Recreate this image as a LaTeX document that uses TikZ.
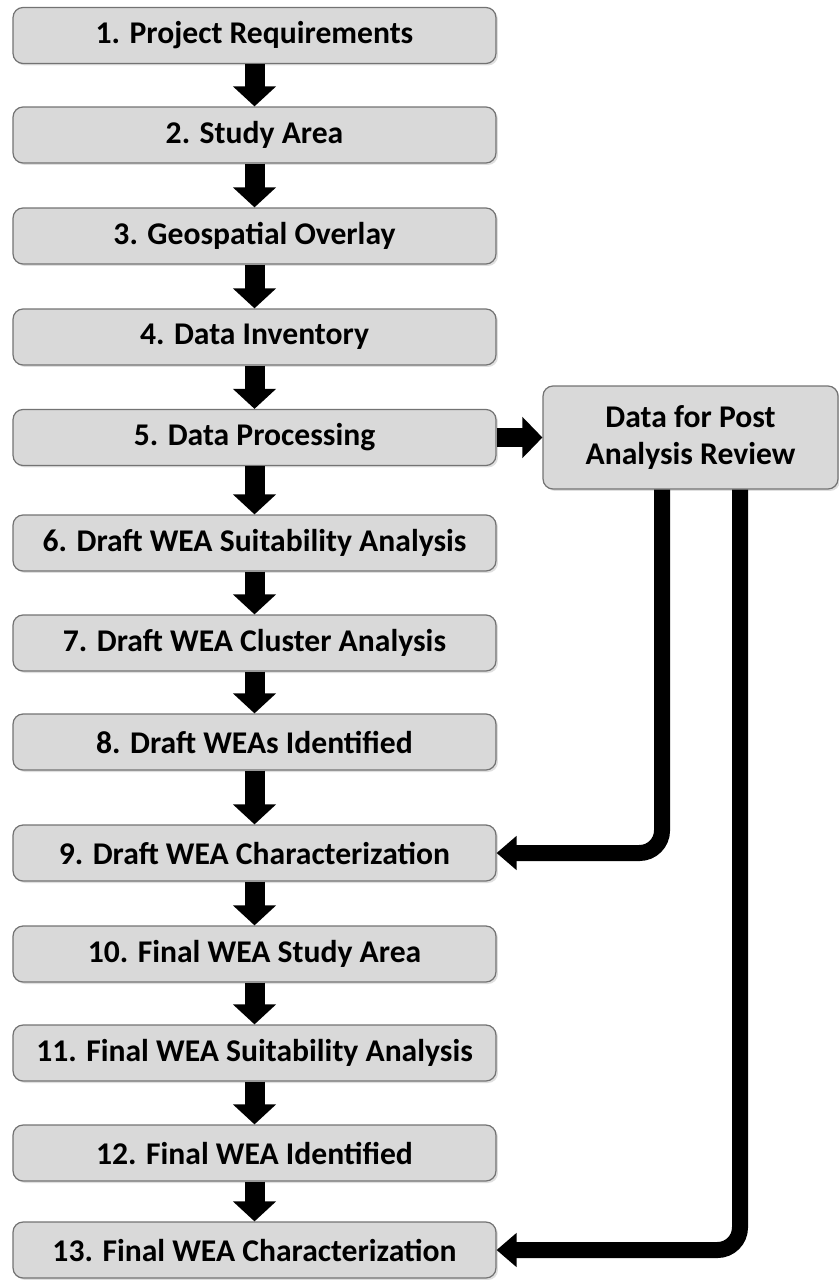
\documentclass[tikz,border=0pt]{standalone}
\usepackage{fontspec}
\setmainfont{Carlito}
\usetikzlibrary{arrows.meta,shadows}
\definecolor{boxfill}{RGB}{217,217,217}
\definecolor{boxline}{RGB}{115,115,115}

\begin{document}
\begin{tikzpicture}[x=0.02cm, y=-0.02cm,
  stepbox/.style={draw=boxline, line width=0.7pt, rounded corners=0.2cm, fill=boxfill, minimum width=9.66cm, minimum height=1.12cm, font=\fontsize{18}{21}\selectfont\bfseries, drop shadow={opacity=0.25, shadow xshift=0.04cm, shadow yshift=-0.04cm}},
  flow/.style={line width=0.4cm, -{Triangle[width=0.84cm,length=0.4cm]}},
  feed/.style={line width=0.32cm, rounded corners=0.45cm, -{Triangle[width=0.66cm,length=0.4cm]}}]
\useasboundingbox (0,0) rectangle (838,1280);
% main sequence of steps
\node[stepbox] (s1) at (254.5,35.5) {1. Project Requirements};
\node[stepbox] (s2) at (254.5,135) {2. Study Area};
\node[stepbox] (s3) at (254.5,236) {3. Geospatial Overlay};
\node[stepbox] (s4) at (254.5,337) {4. Data Inventory};
\node[stepbox] (s5) at (254.5,437.5) {5. Data Processing};
\node[stepbox] (s6) at (254.5,543) {6. Draft WEA Suitability Analysis};
\node[stepbox] (s7) at (254.5,643) {7. Draft WEA Cluster Analysis};
\node[stepbox] (s8) at (254.5,742) {8. Draft WEAs Identified};
\node[stepbox] (s9) at (254.5,853) {9. Draft WEA Characterization};
\node[stepbox] (s10) at (254.5,954) {10. Final WEA Study Area};
\node[stepbox] (s11) at (254.5,1053) {11. Final WEA Suitability Analysis};
\node[stepbox] (s12) at (254.5,1153) {12. Final WEA Identified};
\node[stepbox] (s13) at (254.5,1250) {13. Final WEA Characterization};
% side box
\node[stepbox, align=center, minimum width=5.9cm, minimum height=2.06cm] (post) at (690.5,437.5) {Data for Post\\Analysis Review};
\coordinate (tapA) at ([xshift=-0.57cm]post.south);
\coordinate (tapB) at ([xshift=0.99cm]post.south);
\draw[flow] (s1) -- (s2);
\draw[flow] (s2) -- (s3);
\draw[flow] (s3) -- (s4);
\draw[flow] (s4) -- (s5);
\draw[flow] (s5) -- (s6);
\draw[flow] (s6) -- (s7);
\draw[flow] (s7) -- (s8);
\draw[flow] (s8) -- (s9);
\draw[flow] (s9) -- (s10);
\draw[flow] (s10) -- (s11);
\draw[flow] (s11) -- (s12);
\draw[flow] (s12) -- (s13);
\draw[flow, line width=0.38cm, -{Triangle[width=0.8cm,length=0.4cm]}] (s5) -- (post);
\draw[feed] (tapA) |- (s9.east);
\draw[feed] (tapB) |- (s13.east);
\end{tikzpicture}
\end{document}
